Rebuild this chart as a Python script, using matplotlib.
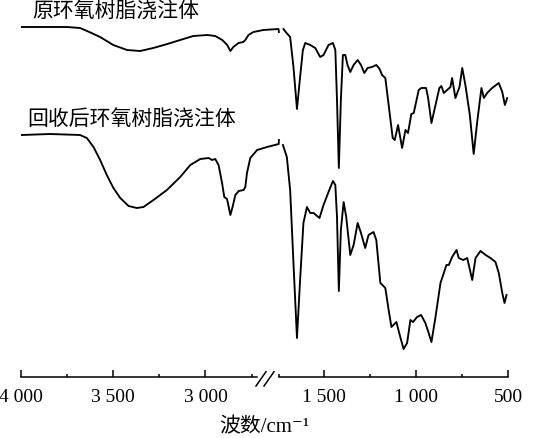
import numpy as np
import matplotlib

matplotlib.use("Agg")

import matplotlib.pyplot as plt
from matplotlib.ticker import FixedLocator, FixedFormatter

plt.rcParams["font.family"] = ["Liberation Serif", "DejaVu Serif", "Noto Sans CJK SC"]

# wavenumber (cm-1) and transmittance (arbitrary units, offset spectra)
TOP_LEFT_WN = [3996, 3897, 3750, 3680, 3642, 3571, 3500, 3425, 3354, 3283, 3207, 3137, 3066,
               2990, 2947, 2909, 2882, 2865, 2849, 2821, 2795, 2784, 2767, 2740, 2686, 2604, 2602]
TOP_LEFT_T = [350, 350, 350, 349, 346, 340, 332, 327, 326, 329, 333, 337, 341,
              342, 341, 337, 332, 326, 330, 334, 335, 337, 342, 345, 347, 348, 345]

TOP_RIGHT_WN = [1717, 1705, 1681, 1663, 1644, 1627, 1612, 1599, 1572, 1545, 1518, 1500, 1473,
                1449, 1436, 1427, 1417, 1406, 1395, 1382, 1370, 1355, 1337, 1315, 1297, 1279,
                1261, 1237, 1214, 1196, 1183, 1165, 1147, 1125, 1114, 1096, 1074, 1056, 1042,
                1024, 1011, 984, 970, 944, 933, 915, 893, 872, 861, 848, 830, 812, 803, 785,
                763, 748, 731, 707, 686, 667, 644, 631, 613, 586, 550, 531, 517, 504]
TOP_RIGHT_T = [348, 345, 340, 310, 268, 300, 327, 334, 332, 329, 320, 322, 332,
               334, 327, 277, 209, 277, 322, 322, 312, 305, 312, 317, 312, 304,
               309, 310, 312, 308, 302, 299, 272, 239, 237, 252, 229, 247, 244,
               263, 264, 287, 289, 289, 279, 254, 272, 289, 291, 284, 287, 290, 299, 279,
               290, 309, 292, 262, 223, 255, 289, 279, 284, 289, 294, 285, 272, 279]

BOT_LEFT_WN = [3996, 3843, 3680, 3643, 3607, 3571, 3535, 3499, 3462, 3417, 3372, 3336, 3282,
               3209, 3137, 3082, 3028, 2983, 2964, 2947, 2929, 2910, 2898, 2883, 2865, 2853,
               2838, 2820, 2793, 2784, 2775, 2757, 2720, 2666, 2603, 2602]
BOT_LEFT_T = [242, 243, 242, 239, 230, 217, 202, 189, 179, 171, 169, 170, 177,
              187, 200, 212, 218, 219, 217, 218, 212, 194, 180, 178, 162, 170,
              182, 186, 187, 190, 204, 219, 227, 230, 233, 237]

BOT_RIGHT_WN = [1720, 1699, 1681, 1663, 1644, 1627, 1609, 1590, 1572, 1554, 1522, 1500, 1473,
                1449, 1436, 1427, 1417, 1406, 1391, 1377, 1355, 1337, 1315, 1297, 1274, 1256,
                1229, 1214, 1192, 1165, 1147, 1132, 1105, 1084, 1066, 1047, 1029, 1015, 993,
                971, 948, 930, 915, 893, 866, 848, 834, 821, 803, 779, 767, 743, 721, 694,
                676, 649, 621, 595, 568, 550, 531, 519, 508]
BOT_RIGHT_T = [232, 220, 187, 114, 39, 97, 154, 170, 164, 164, 159, 172, 185,
               196, 192, 160, 86, 147, 175, 160, 122, 132, 154, 144, 129, 142,
               145, 137, 94, 89, 67, 50, 55, 40, 28, 34, 57, 55, 60,
               62, 54, 44, 35, 60, 94, 104, 112, 112, 120, 127, 119, 117, 119, 97,
               119, 126, 122, 119, 115, 104, 84, 74, 82]

LABELS = ["原环氧树脂浇注体", "回收后环氧树脂浇注体"]
MAJOR_TICKS = [4000, 3500, 3000, 1500, 1000, 500]
MAJOR_LABELS = ["4 000", "3 500", "3 000", "1 500", "1 000", "500"]
MINOR_TICKS = [3750, 3250, 2750, 1750, 1250, 750]

# axis break: 2600..1740 cm-1 is cut out
BREAK_HI, BREAK_LO = 2600, 1740
SHIFT = BREAK_HI - BREAK_LO


def forward(x):
    x = np.asarray(x, dtype=float)
    return np.where(x >= BREAK_HI, x - SHIFT, np.minimum(x, BREAK_LO))


def inverse(p):
    p = np.asarray(p, dtype=float)
    return np.where(p > BREAK_LO, p + SHIFT, p)


fig = plt.figure(figsize=(5.5, 4.38), dpi=100)
ax = fig.add_axes([21 / 550, 61 / 438, 487 / 550, 377 / 438])
ax.set_xscale("function", functions=(forward, inverse))
ax.set_xlim(4000, 500)
ax.set_ylim(0, 377)

line_kw = dict(color="black", linewidth=1.35, solid_joinstyle="round")
ax.plot(TOP_LEFT_WN, TOP_LEFT_T, **line_kw)
ax.plot(TOP_RIGHT_WN, TOP_RIGHT_T, **line_kw)
ax.plot(BOT_LEFT_WN, BOT_LEFT_T, **line_kw)
ax.plot(BOT_RIGHT_WN, BOT_RIGHT_T, **line_kw)

cjk = ["Noto Sans CJK SC", "DejaVu Sans"]
ax.text(3940, 365, LABELS[0], family=cjk, fontsize=15, ha="left", va="center")
ax.text(3967, 257, LABELS[1], family=cjk, fontsize=15, ha="left", va="center")

for side in ["left", "right", "top", "bottom"]:
    ax.spines[side].set_visible(False)
ax.set_yticks([])

ax.xaxis.set_major_locator(FixedLocator(MAJOR_TICKS))
ax.xaxis.set_major_formatter(FixedFormatter(MAJOR_LABELS))
ax.xaxis.set_minor_locator(FixedLocator(MINOR_TICKS))
ax.tick_params(axis="x", which="major", direction="in", length=5, width=1.1, pad=9, labelsize=14)
ax.tick_params(axis="x", which="minor", direction="in", length=2.5, width=1.1)

# broken bottom axis line with two slashes
trans = ax.get_xaxis_transform()
ax.plot([4000, 2718], [0, 0], color="black", linewidth=1.1, transform=trans, clip_on=False)
ax.plot([1751, 500], [0, 0], color="black", linewidth=1.1, transform=trans, clip_on=False)
for x0 in [0.4825, 0.499]:
    ax.plot([x0, x0 + 0.0205], [-0.024, 0.014], color="black", linewidth=1.1,
            transform=ax.transAxes, clip_on=False)

ax.set_xlabel("波数/cm⁻¹", fontsize=15, labelpad=8)

fig.savefig("out.png", dpi=100)
